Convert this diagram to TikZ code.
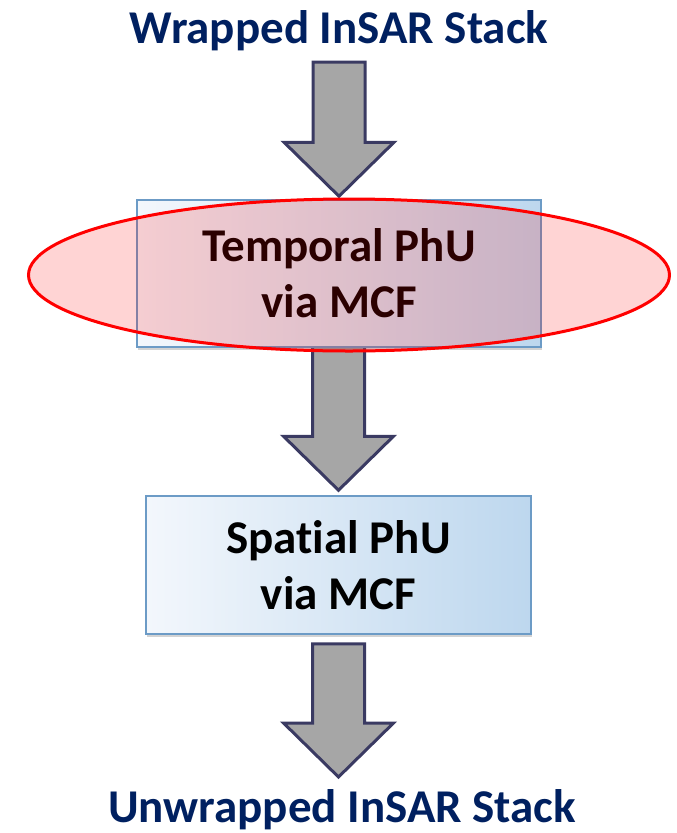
\documentclass[tikz,border=0pt]{standalone}
\usepackage{fontspec}
\setmainfont{Carlito}[Ligatures=NoCommon]
\usepackage{tikz}
\usetikzlibrary{calc}
\usetikzlibrary{shapes.geometric}
\usetikzlibrary{shadows}
\usetikzlibrary{backgrounds}

\definecolor{titleblue}{HTML}{002060}
\definecolor{boxedge}{HTML}{6C9BC6}
\definecolor{boxleft}{HTML}{F3F7FC}
\definecolor{boxright}{HTML}{BDD7EE}
\definecolor{arrowgray}{HTML}{A6A6A6}
\definecolor{arrowedge}{HTML}{3A3A62}

% block arrow: #1 gives the top of the shaft, #2 the tip
\newcommand{\blockarrow}[2]{%
  \filldraw[bigarrow] let \p1=(#1), \p2=(#2) in
    (\x2-26pt,\y1) -- (\x2+26pt,\y1) -- (\x2+26pt,\y2+54pt) -- (\x2+55pt,\y2+54pt)
    -- (\x2,\y2) -- (\x2-55pt,\y2+54pt) -- (\x2-26pt,\y2+54pt) -- cycle;}

\begin{document}
\begin{tikzpicture}[x=1pt,y=-1pt,
    titletext/.style={font=\fontsize{47}{56}\selectfont\bfseries,text=titleblue,inner sep=0pt,anchor=base},
    stepbox/.style={rectangle,draw=boxedge,line width=1.5pt,left color=boxleft,right color=boxright,
      drop shadow={shadow xshift=1pt,shadow yshift=-3pt,opacity=.35},
      font=\fontsize{47}{56}\selectfont\bfseries,align=center,inner sep=0pt},
    bigarrow/.style={fill=arrowgray,draw=arrowedge,line width=3pt,line join=miter}]
			\useasboundingbox (0,0) rectangle (677,833);
			\node [titletext] (wrapped) at (339,43) {Wrapped InSAR Stack};
			\node [stepbox,minimum width=404pt,minimum height=147pt] (temporal) at (339,273.5) {Temporal PhU\\via MCF};
			\node [ellipse,draw=red,line width=3pt,fill=red,fill opacity=.17,minimum width=641pt,minimum height=152pt] (highlight) at (349,275) {};
			\node [stepbox,minimum width=385pt,minimum height=138pt] (spatial) at (338.5,565) {Spatial PhU\\via MCF};
			\node [titletext] (unwrapped) at (342,822) {Unwrapped InSAR Stack};
			\begin{scope}[on background layer]
			\blockarrow{$(wrapped.base)+(0,19)$}{$(temporal.north)+(0,-3)$}
			\blockarrow{temporal.center}{$(spatial.north)+(0,-5)$}
			\blockarrow{$(spatial.south)+(0,9)$}{$(spatial.south |- unwrapped.base)+(0,-45)$}
			\end{scope}
		\end{tikzpicture}
\end{document}
